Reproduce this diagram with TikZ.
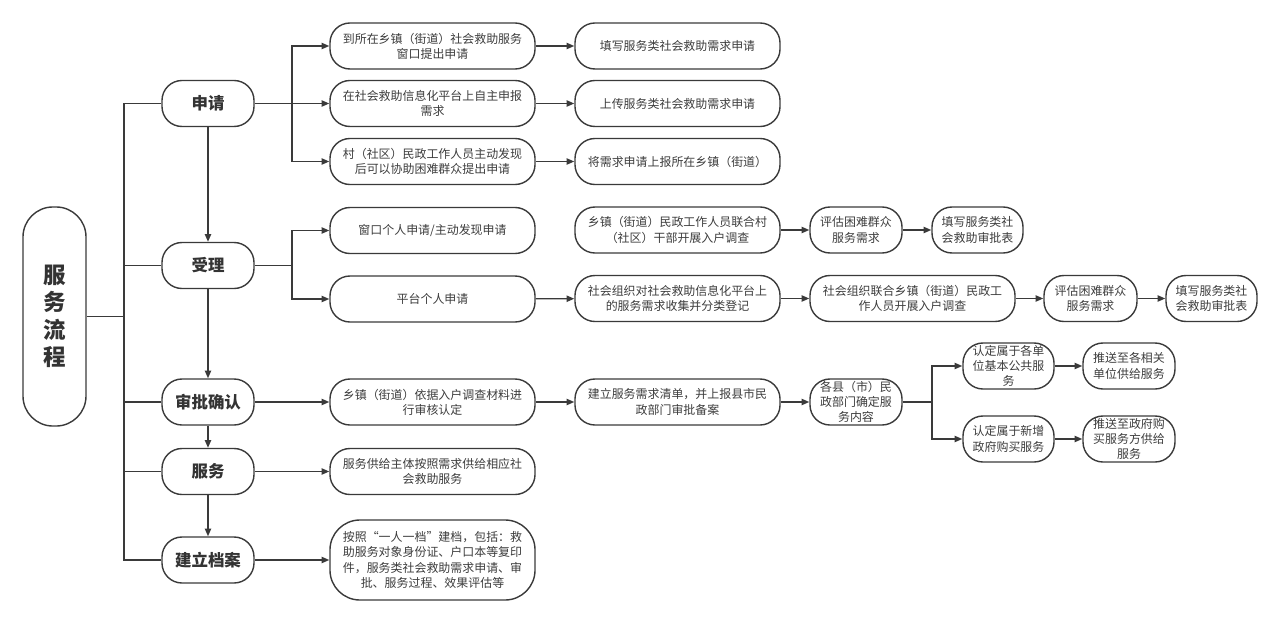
\documentclass[tikz,border=0pt]{standalone}
\usepackage{fontspec}
\setmainfont{Noto Sans CJK SC}
\usepackage{xcolor}
\usetikzlibrary{arrows.meta}
\definecolor{linegray}{HTML}{3A3A3A}
\definecolor{textgray}{HTML}{3C3C3C}

\begin{document}
\begin{tikzpicture}[x=0.025cm, y=-0.025cm]
\tikzstyle{every node}=[font=\fontsize{8.5}{10.8}\selectfont, text=textgray]
\tikzstyle{box}=[draw=linegray, line width=1pt, rounded corners=0.5cm, minimum width=5.125cm, minimum height=1.15cm, inner sep=0pt, align=center]
\tikzstyle{small}=[box, minimum width=2.3cm]
\tikzstyle{stage}=[small, font=\fontsize{11.7}{14}\selectfont\bfseries, text=black!80]
\tikzstyle{line}=[draw=linegray, line width=1pt, >={Triangle[length=5.5pt,width=4.5pt]}]

\useasboundingbox (0,0) rectangle (1280,623);

% Title
\node[box, minimum width=1.575cm, minimum height=5.475cm, rounded corners=0.75cm,
      font=\fontsize{16}{19.5}\selectfont\bfseries, text=black!80] (title) at (54.5,316.5) {服\\务\\流\\程};

% Stages
\node[stage] (apply) at (208,103.5) {申请};
\node[stage] (accept) at (208,265.5) {受理};
\node[stage] (approve) at (208,402) {审批确认};
\node[stage] (serve) at (208,471.5) {服务};
\node[stage] (archive) at (208,560) {建立档案};

% Apply
\node[box] (winapply) at (432.5,46) {到所在乡镇（街道）社会救助服务\\窗口提出申请};
\node[box] (netapply) at (432.5,103.5) {在社会救助信息化平台上自主申报\\需求};
\node[box] (villapply) at (432.5,161.5) {村（社区）民政工作人员主动发现\\后可以协助困难群众提出申请};
\node[box] (filla) at (677.5,46) {填写服务类社会救助需求申请};
\node[box] (uploada) at (677.5,103.5) {上传服务类社会救助需求申请};
\node[box] (reporta) at (677.5,161.5) {将需求申请上报所在乡镇（街道）};

% Accept
\node[box] (winacc) at (432.5,230.5) {窗口个人申请/主动发现申请};
\node[box] (netacc) at (432.5,299) {平台个人申请};
\node[box] (survey) at (677.5,230) {乡镇（街道）民政工作人员联合村\\（社区）干部开展入户调查};
\node[small] (evalA) at (856,230) {评估困难群众\\服务需求};
\node[small, minimum width=2.275cm] (formA) at (977.5,230) {填写服务类社\\会救助审批表};
\node[box] (collect) at (677.5,298.5) {社会组织对社会救助信息化平台上\\的服务需求收集并分类登记};
\node[box] (jointsurvey) at (912.5,298.5) {社会组织联合乡镇（街道）民政工\\作人员开展入户调查};
\node[small, minimum width=2.325cm] (evalB) at (1090.5,298.5) {评估困难群众\\服务需求};
\node[small, minimum width=2.275cm] (formB) at (1211.5,298.5) {填写服务类社\\会救助审批表};

% Approve
\node[box] (townreview) at (432.5,402) {乡镇（街道）依据入户调查材料进\\行审核认定};
\node[box] (needlist) at (677.5,402) {建立服务需求清单，并上报县市民\\政部门审批备案};
\node[small] (county) at (856,402) {各县（市）民\\政部门确定服\\务内容};
\node[small, minimum width=2.275cm] (pubserv) at (1008.5,366) {认定属于各单\\位基本公共服\\务};
\node[small] (pushunit) at (1129,366) {推送至各相关\\单位供给服务};
\node[small, minimum width=2.275cm] (buyserv) at (1008.5,439) {认定属于新增\\政府购买服务};
\node[small] (pushgov) at (1129,439) {推送至政府购\\买服务方供给\\服务};

% Serve and archive
\node[box] (supply) at (432.5,471.5) {服务供给主体按照需求供给相应社\\会救助服务};
\node[box, minimum height=2cm, rounded corners=0.75cm] (filing) at (432.5,560) {按照“一人一档”建档，包括：救\\助服务对象身份证、户口本等复印\\件，服务类社会救助需求申请、审\\批、服务过程、效果评估等};

% Trunk and forks
\coordinate (trunk) at (124,316.5);
\coordinate (fork1) at (292,103.5);
\coordinate (fork2) at (292,265.5);
\coordinate (fork3) at (932,402);

\draw[line] (title.east) -- (trunk);
\draw[line] (apply.west) -| (trunk) |- (archive.west);
\foreach \n in {accept, approve, serve} {
    \draw[line] (\n.west) -- (\n.west -| trunk);
}

% Stage to stage
\foreach \a/\b in {apply/accept, accept/approve, approve/serve, serve/archive} {
    \draw[line, ->] (\a) -- (\b);
}

% Branches
\draw[line] (apply.east) -- (fork1);
\foreach \n in {winapply, netapply, villapply} {
    \draw[line, ->] (fork1) |- (\n.west);
}
\draw[line] (accept.east) -- (fork2);
\foreach \n in {winacc, netacc} {
    \draw[line, ->] (fork2) |- (\n.west);
}
\draw[line] (county.east) -- (fork3);
\foreach \n in {pubserv, buyserv} {
    \draw[line, ->] (fork3) |- (\n.west);
}

% Chains
\foreach \a/\b in {approve/townreview, serve/supply, archive/filing,
                   winapply/filla, netapply/uploada, villapply/reporta,
                   survey/evalA, evalA/formA,
                   netacc/collect, collect/jointsurvey, jointsurvey/evalB, evalB/formB,
                   townreview/needlist, needlist/county,
                   pubserv/pushunit, buyserv/pushgov} {
    \draw[line, ->] (\a) -- (\b);
}

\end{tikzpicture}
\end{document}
